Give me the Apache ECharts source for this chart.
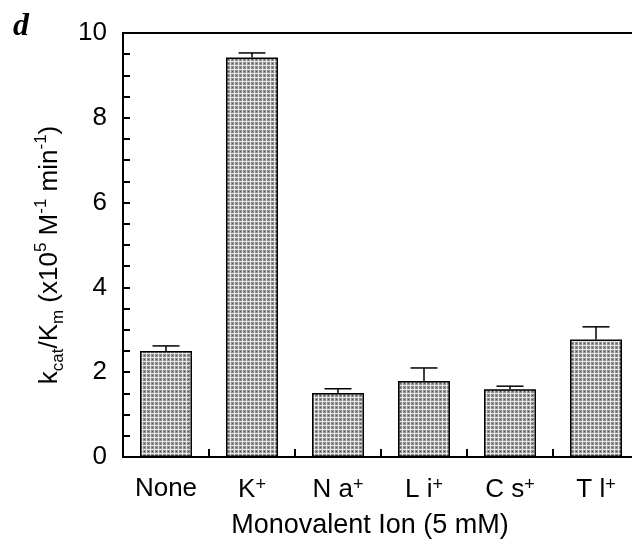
<!DOCTYPE html>
<html>
<head>
<meta charset="utf-8">
<script src="https://cdn.jsdelivr.net/npm/echarts@6/dist/echarts.min.js"></script>
<style>
  html, body { margin: 0; padding: 0; background: #fff; }
  #chart { width: 632px; height: 543px; }
</style>
</head>
<body>
<div id="chart"></div>
<script>
// ions on the x axis (rich text keys for the superscript +)
const categories = ["None", "K", "Na", "Li", "Cs", "Tl"];
const catLabels = ["None", "K{sup|+}", "N a{sup|+}", "L i{sup|+}", "C s{sup|+}", "T l{sup|+}"];
// kcat/Km values (x10^5 M-1 min-1)
const values = [2.5, 9.42, 1.51, 1.79, 1.6, 2.77];
// top of the error bar
const errTop = [2.62, 9.53, 1.61, 2.1, 1.67, 3.07];
const yTicks = [0, 2, 4, 6, 8, 10];

const font = "Liberation Sans, Arial, Helvetica, sans-serif";

// stippled grey fill like the printed bars
function makePattern() {
  const c = document.createElement("canvas");
  c.width = 4;
  c.height = 4;
  const ctx = c.getContext("2d");
  ctx.fillStyle = "#8f8f8f";
  ctx.fillRect(0, 0, 4, 4);
  ctx.fillStyle = "rgba(255,255,255,0.75)";
  ctx.fillRect(0, 1, 4, 1);
  ctx.fillRect(2, 0, 1, 4);
  ctx.fillStyle = "rgba(50,50,50,0.6)";
  ctx.fillRect(0, 3, 1, 1);
  return c;
}

const chart = echarts.init(document.getElementById("chart"));

chart.setOption({
  backgroundColor: "#fff",
  animation: false,
  grid: {
    left: 123,
    right: -7,
    top: 33,
    bottom: 86,
    outerBoundsMode: "none",
    show: true,
    borderColor: "#000",
    borderWidth: 2,
  },
  graphic: [
    {
      type: "text",
      left: 13,
      top: 11,
      style: {
        text: "d",
        font: "italic bold 32px 'Liberation Serif', 'DejaVu Serif', serif",
        fill: "#000",
      },
    },
  ],
  xAxis: {
    type: "category",
    data: categories,
    name: "Monovalent Ion (5 mM)",
    nameLocation: "middle",
    nameGap: 55,
    nameTextStyle: { fontSize: 27, color: "#000", fontFamily: font, padding: [0, 22, 0, 0] },
    axisLine: { lineStyle: { color: "#000", width: 2 } },
    axisTick: { show: true, inside: true, length: 8, interval: 0, lineStyle: { color: "#000", width: 2 } },
    axisLabel: {
      interval: 0,
      margin: 19,
      color: "#000",
      fontSize: 26,
      fontFamily: font,
      formatter: function (v, i) {
        return catLabels[i];
      },
      rich: {
        sup: { fontSize: 18, verticalAlign: "top", color: "#000", fontFamily: font, padding: [0, 0, 10, 0] },
      },
    },
  },
  yAxis: {
    type: "value",
    min: yTicks[0],
    max: yTicks[yTicks.length - 1],
    interval: 2,
    name: "{n|k}{sub|cat}{n|/K}{sub|m}{n| (x10}{sup|5}{n| M}{sup|-1}{n| min}{sup|-1}{n|)}",
    nameLocation: "middle",
    nameRotate: 90,
    nameGap: 48,
    nameTextStyle: {
      padding: [0, 20, 0, 0],
      rich: {
        n: { fontSize: 26, color: "#000", fontFamily: font, lineHeight: 34 },
        sub: { fontSize: 17, color: "#000", fontFamily: font, verticalAlign: "bottom", lineHeight: 34 },
        sup: { fontSize: 17, color: "#000", fontFamily: font, verticalAlign: "top", lineHeight: 34 },
      },
    },
    axisLine: { show: true, lineStyle: { color: "#000", width: 2 } },
    axisTick: { show: true, inside: true, length: 7, lineStyle: { color: "#000", width: 2 } },
    minorTick: { show: true, splitNumber: 4, length: 7, lineStyle: { color: "#000", width: 2 } },
    splitLine: { show: false },
    axisLabel: { margin: 16, color: "#000", fontSize: 26, fontFamily: font },
  },
  series: [
    {
      type: "bar",
      data: values,
      barWidth: 52,
      itemStyle: {
        color: { image: makePattern(), repeat: "repeat" },
        borderColor: "#000",
        borderWidth: 1.5,
      },
      z: 2,
    },
    {
      type: "custom",
      data: values.map(function (v, i) {
        return [i, v, errTop[i]];
      }),
      renderItem: function (params, api) {
        const base = api.coord([api.value(0), api.value(1)]);
        const top = api.coord([api.value(0), api.value(2)]);
        const half = 13.5;
        return {
          type: "group",
          children: [
            {
              type: "line",
              shape: { x1: base[0], y1: base[1], x2: top[0], y2: top[1] },
              style: { stroke: "#000", lineWidth: 1.5 },
            },
            {
              type: "line",
              shape: { x1: top[0] - half, y1: top[1], x2: top[0] + half, y2: top[1] },
              style: { stroke: "#000", lineWidth: 1.5 },
            },
          ],
        };
      },
      z: 3,
    },
  ],
});
</script>
</body>
</html>
